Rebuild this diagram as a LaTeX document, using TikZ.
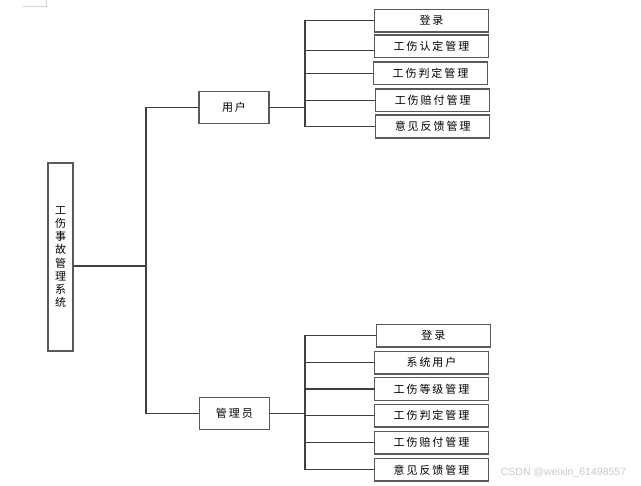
\documentclass[tikz,border=0pt]{standalone}
\usepackage{fontspec}
\newfontfamily\cjk[LetterSpace=18]{Noto Sans CJK SC}
\newfontfamily\cjkplain{Noto Sans CJK SC}
\newfontfamily\wm{Liberation Sans}
\definecolor{boxline}{HTML}{5A5A5A}
\definecolor{conline}{HTML}{404040}
\definecolor{wmgray}{HTML}{C8C8C8}
\begin{document}
\begin{tikzpicture}[x=0.75pt,y=-0.75pt,
  box/.style={draw=boxline,line width=1.05pt,fill=white,inner sep=0pt,
    font=\cjk\fontsize{8.25pt}{9.75pt}\selectfont},
  leaf/.style={box,minimum width=85.5pt,minimum height=17pt},
  mid/.style={box,minimum width=52.5pt,minimum height=24pt},
  conn/.style={draw=conline,line width=0.8pt}]
\useasboundingbox (0,0) rectangle (641,485);
% corner mark
\draw[draw=lightgray!70,line width=0.75pt] (23,7) -- (46.7,7) -- (46.7,0);
% nodes
\node[box,minimum width=18.75pt,minimum height=141pt,align=center,
  font=\cjkplain\fontsize{8.25pt}{9.9pt}\selectfont] (root) at (60.5,257)
  {工\\伤\\事\\故\\管\\理\\系\\统};
\node[mid] (user) at (234,107.7) {用户};
\node[mid] (admin) at (234.3,413.3) {管理员};
\node[leaf] (t1) at (431.5,20.7) {登录};
\node[leaf] (t2) at (431.5,46.2) {工伤认定管理};
\node[leaf] (t3) at (430.5,73.2) {工伤判定管理};
\node[leaf] (t4) at (432.7,100.3) {工伤赔付管理};
\node[leaf] (t5) at (432.7,126.5) {意见反馈管理};
\node[leaf] (b1) at (433.3,335.8) {登录};
\node[leaf] (b2) at (431.5,362.7) {系统用户};
\node[leaf] (b3) at (431.5,389) {工伤等级管理};
\node[leaf] (b4) at (431.5,415.8) {工伤判定管理};
\node[leaf] (b5) at (431.5,442.8) {工伤赔付管理};
\node[leaf] (b6) at (431.5,469.8) {意见反馈管理};
% connector anchors
\coordinate (trunk) at (146,266);
\coordinate (ubus) at (305,0);
\coordinate (abus) at (305,0);
% connectors
\draw[conn] (root.east |- trunk) -- (trunk);
\draw[conn] (user.west) -| (trunk) |- (admin.west);
\draw[conn] (user.east) -- (user.east -| ubus);
\draw[conn] (t1.west) -- (ubus |- t1.west) -- (ubus |- t5.west) -- (t5.west);
\draw[conn] ([yshift=-3.4pt]ubus |- t2.west) -- ([yshift=-3.4pt]t2.west);
\foreach \n in {t3,t4}{\draw[conn] (ubus |- \n.west) -- (\n.west);}
\draw[conn] (admin.east) -- (admin.east -| abus);
\draw[conn] (b1.west) -- (abus |- b1.west) -- (abus |- b6.west) -- (b6.west);
\foreach \n in {b2,b3,b4,b5}{\draw[conn] (abus |- \n.west) -- (\n.west);}
% watermark
\node[font=\wm\fontsize{7.9pt}{10pt}\selectfont,text=wmgray,inner sep=0pt,anchor=west] (wmark) at (500.5,473) {CSDN @weixin\_61498557};
\end{tikzpicture}
\end{document}
